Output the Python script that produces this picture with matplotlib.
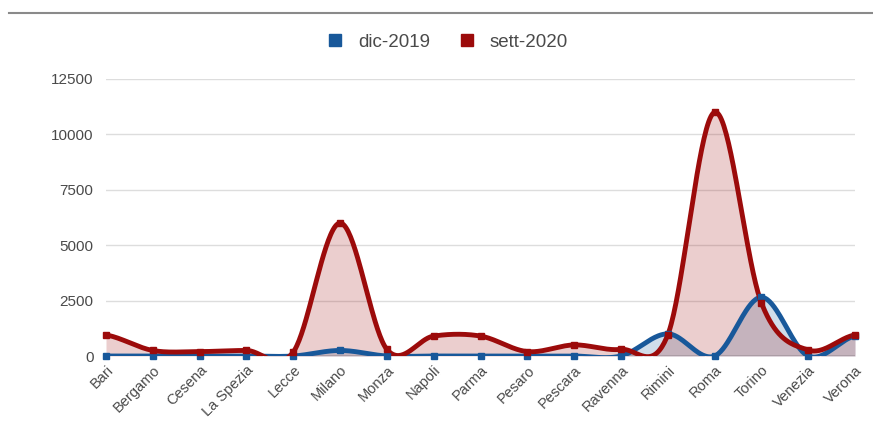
import numpy as np
import matplotlib
matplotlib.use('Agg')
import matplotlib.pyplot as plt
from matplotlib.lines import Line2D

plt.rcParams['font.family'] = ['Liberation Sans', 'DejaVu Sans']

cities = ['Bari', 'Bergamo', 'Cesena', 'La Spezia', 'Lecce', 'Milano', 'Monza',
          'Napoli', 'Parma', 'Pesaro', 'Pescara', 'Ravenna', 'Rimini', 'Roma',
          'Torino', 'Venezia', 'Verona']
dic_2019 = [0, 0, 0, 0, 0, 250, 0, 0, 0, 0, 0, 0, 1000, 0, 2650, 0, 900]
sett_2020 = [950, 250, 200, 250, 180, 6000, 300, 900, 900, 200, 500, 300, 950,
             11000, 2400, 270, 950]
yticks = [0, 2500, 5000, 7500, 10000, 12500]

BLUE = '#18589a'
RED = '#9c0b0b'
TEXT = '#4a4a4a'


def smooth(y, n=40):
    # catmull-rom through every point, like a "function" curve
    y = np.asarray(y, dtype=float)
    p = np.concatenate([[y[0]], y, [y[-1]]])
    xs, ys = [], []
    t = np.linspace(0, 1, n, endpoint=False)
    for i in range(len(y) - 1):
        p0, p1, p2, p3 = p[i], p[i + 1], p[i + 2], p[i + 3]
        m1 = (p2 - p0) / 2
        m2 = (p3 - p1) / 2
        h00 = 2 * t**3 - 3 * t**2 + 1
        h10 = t**3 - 2 * t**2 + t
        h01 = -2 * t**3 + 3 * t**2
        h11 = t**3 - t**2
        xs.append(i + t)
        ys.append(h00 * p1 + h10 * m1 + h01 * p2 + h11 * m2)
    xs.append([len(y) - 1])
    ys.append([y[-1]])
    return np.concatenate(xs), np.concatenate(ys)


fig = plt.figure(figsize=(8.73, 4.32), dpi=100)
ax = fig.add_axes([106 / 873, 76 / 432, 749 / 873, 277 / 432])

x = np.arange(len(cities))
for vals, col in [(dic_2019, BLUE), (sett_2020, RED)]:
    xs, ys = smooth(vals)
    ax.fill_between(xs, 0, ys, color=col, alpha=0.2, linewidth=0)
    ax.plot(xs, ys, color=col, linewidth=3.5, solid_capstyle='round', zorder=3)
    ax.plot(x, vals, 's', color=col, markersize=5, clip_on=False, zorder=4)

ax.set_xlim(0, len(cities) - 1)
ax.set_ylim(0, 12500)
ax.set_yticks(yticks)
ax.set_yticklabels([str(v) for v in yticks])
ax.set_xticks(x)
ax.set_xticklabels(cities, rotation=45, ha='right', rotation_mode='anchor')
ax.tick_params(axis='both', length=0, colors=TEXT)
ax.tick_params(axis='y', pad=9, labelsize=11)
ax.tick_params(axis='x', pad=5, labelsize=10.5)
ax.grid(axis='y', color='#dddddd', linewidth=1)
ax.set_axisbelow(True)
for s in ax.spines.values():
    s.set_visible(False)
ax.axhline(0, color='#555555', linewidth=1, zorder=2)

handles = [Line2D([], [], marker='s', linestyle='', color=BLUE, markersize=8),
           Line2D([], [], marker='s', linestyle='', color=RED, markersize=8)]
fig.legend(handles, ['dic-2019', 'sett-2020'], loc='center', ncol=2,
           bbox_to_anchor=(448 / 873, 1 - 42 / 432), frameon=False,
           fontsize=13.5, labelcolor=TEXT, handlelength=0.8, handletextpad=0.8,
           columnspacing=1.6)

# thin rule across the top
fig.add_artist(Line2D([9 / 873, 1], [1 - 12.5 / 432] * 2, color='#8a8a8a', linewidth=1.5))

fig.savefig('out.png', dpi=100)
